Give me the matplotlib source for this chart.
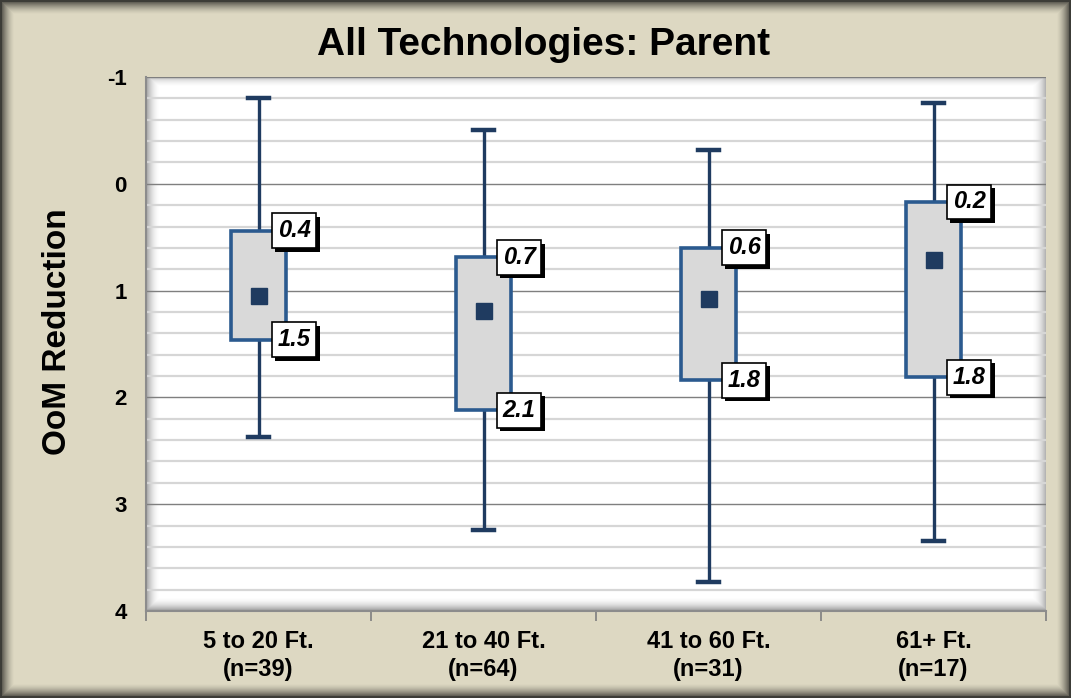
import numpy as np
import matplotlib
matplotlib.use("Agg")
import matplotlib.pyplot as plt
import matplotlib.patheffects as pe
from matplotlib.ticker import MultipleLocator, FixedLocator

plt.rcParams['font.family'] = ['Liberation Sans', 'DejaVu Sans']
plt.rcParams['axes.unicode_minus'] = False

# data
categories = ["5 to 20 Ft.\n(n=39)", "21 to 40 Ft.\n(n=64)", "41 to 60 Ft.\n(n=31)", "61+ Ft.\n(n=17)"]
q1 = [0.44, 0.69, 0.60, 0.17]
q3 = [1.46, 2.12, 1.84, 1.81]
means = [1.05, 1.19, 1.08, 0.71]
whisk_lo = [-0.80, -0.50, -0.32, -0.76]
whisk_hi = [2.37, 3.24, 3.73, 3.34]

W, H = 1071, 698
fig = plt.figure(figsize=(W / 100, H / 100), dpi=100)

# beige background with dark border and inner shadow
bg = fig.add_axes([0, 0, 1, 1], zorder=-10)
bg.set_axis_off()
beige = np.array([221, 216, 194]) / 255.0
yy, xx = np.mgrid[0:H, 0:W]
d = np.minimum.reduce([xx, W - 1 - xx, yy, H - 1 - yy]).astype(float)
dark = np.clip(1 - (d - 2) / 12.0, 0, 1) ** 1.5
img = beige[None, None, :] * (1 - 0.55 * dark[..., None])
img[d < 2] = np.array([60, 60, 55]) / 255.0
bg.imshow(img, extent=[0, 1, 0, 1], aspect='auto', interpolation='nearest')
bg.set_xlim(0, 1)
bg.set_ylim(0, 1)

ax = fig.add_axes([146 / W, 1 - 611 / H, 900 / W, 534 / H])
ax.set_facecolor('white')

# inner shadow on the plot area
ph, pw = 534, 900
py, px = np.mgrid[0:ph, 0:pw]
sh = np.zeros((ph, pw))
sh = np.maximum(sh, np.clip(1 - px / 14.0, 0, 1) ** 2 * 0.55)
sh = np.maximum(sh, np.clip(1 - (pw - 1 - px) / 14.0, 0, 1) ** 2 * 0.45)
sh = np.maximum(sh, np.clip(1 - py / 10.0, 0, 1) ** 2 * 0.35)
sh = np.maximum(sh, np.clip(1 - (ph - 1 - py) / 14.0, 0, 1) ** 2 * 0.6)
rgba = np.zeros((ph, pw, 4))
rgba[..., :3] = 0.35
rgba[..., 3] = sh
ax.imshow(rgba, extent=[0, 1, 0, 1], transform=ax.transAxes, aspect='auto', zorder=0.2)

edge = '#2b5a8f'
dark_blue = '#1f3b60'
xs = np.arange(len(categories))
bw = 0.245
capw = 0.09

for i in xs:
    ax.plot([i, i], [whisk_lo[i], q1[i]], color=dark_blue, lw=2.4, zorder=2, solid_capstyle='butt')
    ax.plot([i, i], [q3[i], whisk_hi[i]], color=dark_blue, lw=2.4, zorder=2, solid_capstyle='butt')
    ax.plot([i - capw / 2, i + capw / 2], [whisk_lo[i]] * 2, color=dark_blue, lw=3.2, zorder=2)
    ax.plot([i - capw / 2, i + capw / 2], [whisk_hi[i]] * 2, color=dark_blue, lw=3.2, zorder=2)
    ax.bar(i, q3[i] - q1[i], bottom=q1[i], width=bw, color='#d9d9d9', edgecolor=edge,
           linewidth=2.6, zorder=3)
    ax.plot(i, means[i], marker='s', ms=12, color=dark_blue, zorder=4)
    for v in (q1[i], q3[i]):
        t = ax.text(i + 0.085, v, f"{v:.1f}", ha='left', va='center', fontsize=17,
                    fontweight='bold', fontstyle='italic', zorder=6,
                    bbox=dict(boxstyle='square,pad=0.25', facecolor='white', edgecolor='black', lw=1.2))
        t.get_bbox_patch().set_path_effects([
            pe.withSimplePatchShadow(offset=(2.5, -2.5), shadow_rgbFace='black', alpha=1.0)])

ax.set_xlim(-0.5, len(categories) - 0.5)
ax.set_ylim(4, -1)

ax.yaxis.set_major_locator(MultipleLocator(1))
ax.yaxis.set_minor_locator(MultipleLocator(0.2))
ax.grid(which='major', axis='y', color='#7f7f7f', lw=1.0, zorder=0.5)
ax.grid(which='minor', axis='y', color='#d6d6d6', lw=1.6, zorder=0.4)
ax.set_axisbelow(True)
ax.tick_params(axis='y', which='both', length=0, pad=14, labelsize=16)
for lab in ax.get_yticklabels():
    lab.set_fontweight('bold')

ax.xaxis.set_major_locator(FixedLocator(np.arange(-0.5, len(categories), 1.0)))
ax.xaxis.set_minor_locator(FixedLocator(xs))
ax.set_xticklabels([], minor=False)
ax.set_xticks(xs, categories, minor=True)
ax.tick_params(axis='x', which='major', length=7, width=1.2, color='#7f7f7f')
ax.tick_params(axis='x', which='minor', length=0, pad=14, labelsize=17)
for lab in ax.get_xticklabels(minor=True):
    lab.set_fontweight('bold')
    lab.set_linespacing(1.25)

for s in ['top', 'right']:
    ax.spines[s].set_visible(False)
ax.spines['left'].set_color('#8c8c8c')
ax.spines['bottom'].set_color('#8c8c8c')
ax.spines['left'].set_linewidth(1.5)
ax.spines['bottom'].set_linewidth(1.5)

ax.set_ylabel("OoM Reduction", fontsize=24, fontweight='bold')
ax.yaxis.set_label_coords(-73 / 900, 0.524)
fig.text(544 / W, 1 - 45 / H, "All Technologies: Parent", ha='center', va='center',
         fontsize=28, fontweight='bold')

fig.savefig("out.png", dpi=100)
